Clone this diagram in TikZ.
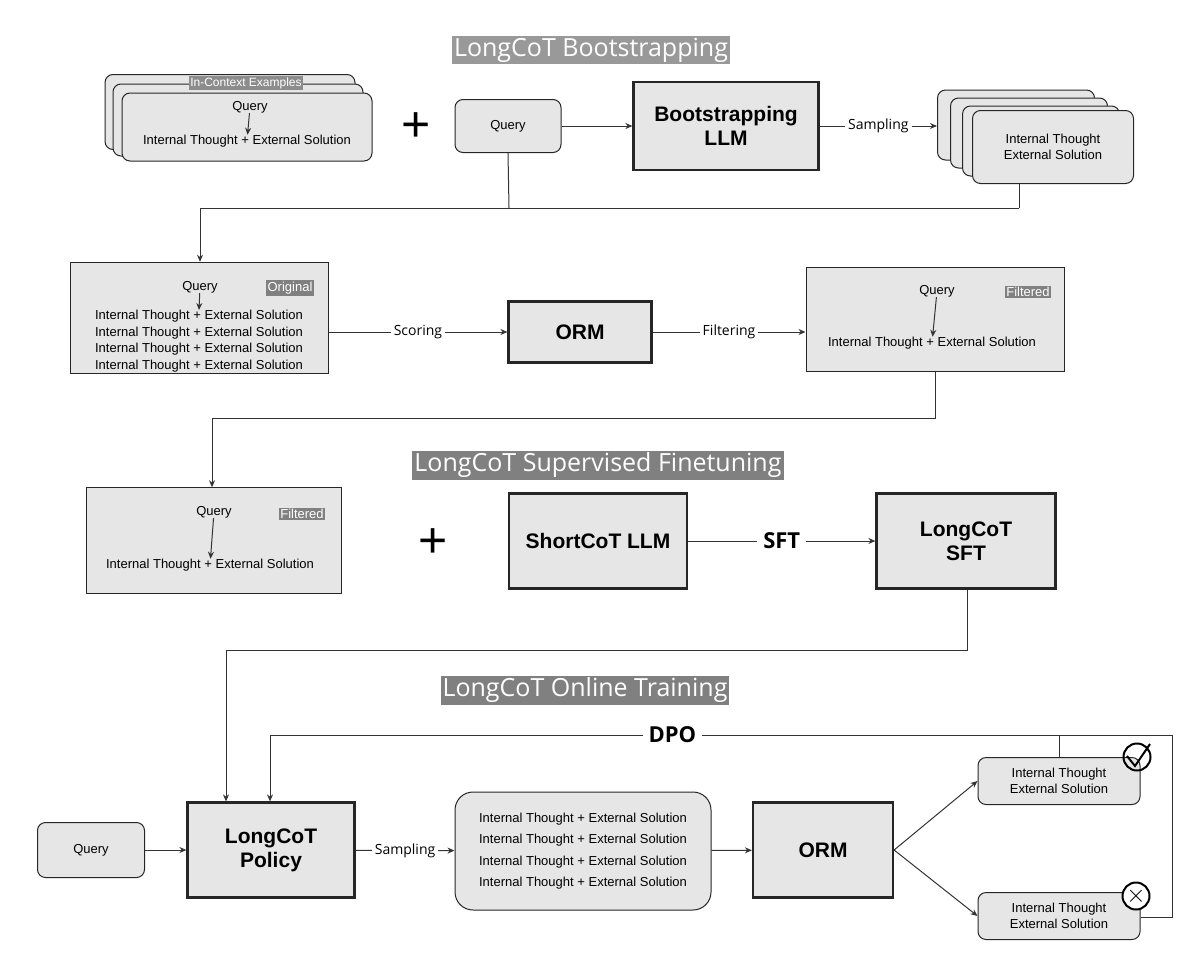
\documentclass[tikz,border=0pt]{standalone}
\usepackage{fontspec}
\setmainfont{Liberation Sans}
\newfontfamily\labelfont{Open Sans}
\usetikzlibrary{shapes.geometric,arrows.meta,positioning}
\definecolor{boxfill}{HTML}{E6E6E6}
\definecolor{titlegray}{HTML}{808080}
\begin{document}
\begin{tikzpicture}[x=1pt, y=-1pt,
    box/.style={rectangle, rounded corners=8pt, draw=black!85, fill=boxfill, line width=1pt, font=\fontsize{13}{15.5}\selectfont, align=center, inner sep=0pt},
    block/.style={rectangle, draw=black!85, fill=boxfill, line width=2.2pt, font=\fontsize{21}{24}\selectfont\bfseries, align=center, inner sep=0pt},
    db/.style={cylinder, shape border rotate=90, aspect=0.08, draw=black!85, fill=boxfill, line width=1pt, inner sep=0pt},
    title/.style={fill=titlegray, text=white, font=\labelfont\fontsize{25}{28}\selectfont, inner sep=2pt},
    tag/.style={fill=titlegray, text=white, font=\fontsize{13}{15}\selectfont, inner sep=1.5pt},
    lbl/.style={fill=white, font=\labelfont\fontsize{14}{16}\selectfont, inner sep=3pt},
    big/.style={fill=white, font=\labelfont\fontsize{22}{24}\selectfont\bfseries, inner sep=6pt},
    txt/.style={font=\fontsize{13}{15.5}\selectfont, inner sep=0pt},
    plus/.style={font=\fontsize{50}{50}\selectfont},
    arrow/.style={-{Stealth[length=7pt,width=6pt]}, line width=1pt, draw=black!80},
    line/.style={line width=1pt, draw=black!80}]
    \useasboundingbox (0,0) rectangle (1200,962);

    % bootstrapping
    \node[title, fill=black!40] (t1) at (591,50) {LongCoT Bootstrapping};
    \node[box, minimum width=250pt, minimum height=75pt] (ice3) at (230,112) {};
    \node[box, minimum width=250pt, minimum height=72pt] (ice2) at (238,120) {};
    \node[box, minimum width=250pt, minimum height=68pt] (ice1) at (247,127) {};
    \node[tag, fill=black!45, font=\fontsize{12}{14}\selectfont] (icel) at (246,83) {In-Context Examples};
    \node[txt] (iq) at (250,107) {Query};
    \node[txt] (iit) at (247,141) {Internal Thought + External Solution};
    \draw[arrow] (iq) -- (iit);
    \node[plus] (plus1) at (416,127) {+};
    \node[box, minimum width=106pt, minimum height=53pt] (q1) at (508,126) {Query};
    \node[block, minimum width=185pt, minimum height=88pt] (boot) at (726,126) {Bootstrapping\\LLM};
    \node[box, minimum width=157pt, minimum height=70pt] (s4) at (1016,125) {};
    \node[box, minimum width=157pt, minimum height=70pt] (s3) at (1029,133) {};
    \node[box, minimum width=157pt, minimum height=70pt] (s2) at (1041,141) {};
    \node[box, minimum width=161pt, minimum height=73pt] (s1) at (1053,147) {Internal Thought\\External Solution};
    \draw[arrow] (q1) -- (boot);
    \draw[arrow] (boot) -- node[lbl] {Sampling} (s4.west |- boot);
    \coordinate (j1) at (509,208);
    \coordinate (j2) at (1019,208);
    \coordinate (j3) at (200,208);

    % scoring
    \node[db, minimum width=258pt, minimum height=111pt] (orig) at (199,318) {};
    \node[tag] (origl) at (290,288) {Original};
    \node[txt] (oq) at (200,287) {Query};
    \node[txt, align=center, font=\fontsize{13}{16.5}\selectfont] (oit) at (199,341) {Internal Thought + External Solution\\Internal Thought + External Solution\\Internal Thought + External Solution\\Internal Thought + External Solution};
    \draw[arrow] (oq) -- (oit.north);
    \draw[line] (q1.south) -- (j1);
    \draw[line] (s1.south -| j2) -- (j2);
    \draw[arrow] (j2) -- (j3) -- (orig.north -| j3);
    \node[block, minimum width=143pt, minimum height=61pt] (orm1) at (580,332) {ORM};
    \node[db, minimum width=258pt, minimum height=104pt] (filt1) at (935,320) {};
    \node[tag] (fl1) at (1028,292) {Filtered};
    \node[txt] (fq1) at (937,291) {Query};
    \node[txt] (fit1) at (932,343) {Internal Thought + External Solution};
    \draw[arrow] (fq1) -- (fit1);
    \draw[arrow] (orig.east |- orm1) -- node[lbl] {Scoring} (orm1);
    \draw[arrow] (orm1) -- node[lbl] {Filtering} (filt1.west |- orm1);

    % supervised finetuning
    \node[title] (t2) at (598,465) {LongCoT Supervised Finetuning};
    \node[db, minimum width=255pt, minimum height=106pt] (filt2) at (214,541) {};
    \node[tag] (fl2) at (302,514) {Filtered};
    \node[txt] (fq2) at (214,512) {Query};
    \node[txt] (fit2) at (210,565) {Internal Thought + External Solution};
    \draw[arrow] (fq2) -- (fit2);
    \coordinate (k1) at (935,418);
    \coordinate (k2) at (212,418);
    \draw[arrow] (filt1.south -| k1) -- (k1) -- (k2) -- (filt2.north -| k2);
    \node[plus] (plus2) at (433,543) {+};
    \node[block, minimum width=178pt, minimum height=95pt] (short) at (598,541) {ShortCoT LLM};
    \node[block, minimum width=179pt, minimum height=95pt] (lsft) at (966,541) {LongCoT\\SFT};
    \draw[arrow] (short) -- node[big] {SFT} (lsft);

    % online training
    \node[title] (t3) at (585,690) {LongCoT Online Training};
    \node[box, minimum width=107pt, minimum height=55pt] (q2) at (91,850) {Query};
    \node[block, minimum width=167pt, minimum height=95pt] (pol) at (271,850) {LongCoT\\Policy};
    \node[box, rounded corners=18pt, minimum width=256pt, minimum height=118pt, font=\fontsize{13}{21.5}\selectfont] (cand) at (583,851) {Internal Thought + External Solution\\Internal Thought + External Solution\\Internal Thought + External Solution\\Internal Thought + External Solution};
    \node[block, minimum width=140pt, minimum height=95pt] (orm2) at (823,850) {ORM};
    \node[box, minimum width=162pt, minimum height=47pt] (good) at (1059,781) {Internal Thought\\External Solution};
    \node[box, minimum width=162pt, minimum height=47pt] (bad) at (1059,916) {Internal Thought\\External Solution};
    \node[circle, draw, line width=2pt, minimum size=27pt, inner sep=0pt] (ok) at (1137,757) {};
    \node[circle, draw, line width=2pt, fill=white, minimum size=27pt, inner sep=0pt, font=\fontsize{24}{24}\selectfont] (no) at (1136,896) {$\times$};
    \draw[line width=2pt] (1127,756) -- (1135,766) -- (1150,744);
    \coordinate (m1) at (967,650);
    \coordinate (m2) at (226,650);
    \draw[arrow] (lsft.south -| m1) -- (m1) -- (m2) -- (pol.north -| m2);
    \coordinate (d1) at (1059,735);
    \coordinate (d2) at (270,735);
    \coordinate (d3) at (1172,735);
    \coordinate (d4) at (1172,917);
    \draw[line] (good.north) -- (d1);
    \draw[line] (bad.east |- d4) -- (d4) -- (d3) -- (d1);
    \draw[arrow] (d1) -- node[big, pos=0.49] {DPO} (d2) -- (pol.north -| d2);
    \draw[arrow] (q2) -- (pol);
    \draw[arrow] (pol) -- node[lbl] {Sampling} (cand);
    \draw[arrow] (cand) -- (orm2);
    \draw[arrow] (orm2.east) -- (good.west);
    \draw[arrow] (orm2.east) -- (bad.west);
\end{tikzpicture}
\end{document}
